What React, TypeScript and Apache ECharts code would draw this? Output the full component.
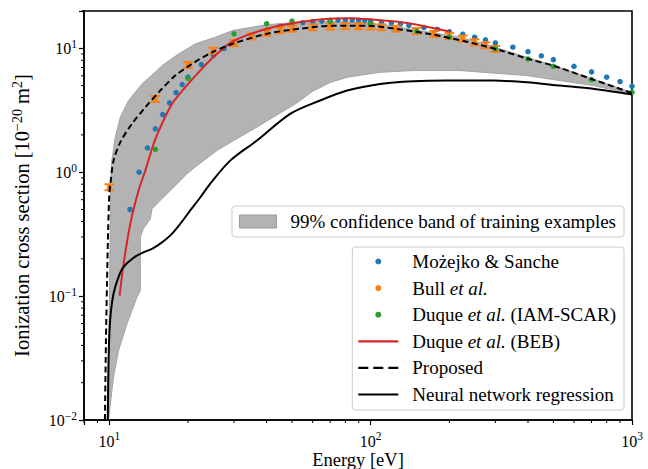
import React, { useEffect, useRef } from 'react';
import * as echarts from 'echarts';

const FONT = '"Liberation Serif", serif';

const BAND = '99% confidence band of training examples';
const MOZ = 'Możejko & Sanche';
const BULL = 'Bull et al.';
const IAM = 'Duque et al. (IAM-SCAR)';
const BEB = 'Duque et al. (BEB)';
const PROP = 'Proposed';
const NN = 'Neural network regression';

// confidence band: upper (left/top) edge and lower (right/bottom) edge, [energy, cross section]
const bandUpper: number[][] = [
  [9.8, 0.01], [9.94, 0.0365], [10.03, 0.127], [10.09, 0.43], [10.12, 0.8], [10.2, 1.2],
  [10.54, 1.92], [11.02, 2.78], [11.85, 3.79], [13.34, 5.16], [15.22, 6.61], [15.9, 7.25],
  [18.4, 9.01], [21.33, 10.85], [25.43, 12.27], [29.8, 13.97], [40.1, 15.5], [53.7, 16.3],
  [70, 16.5], [90, 16.2], [120, 15.2], [150, 14.0], [220, 12.3], [300, 10.2], [400, 8.4],
  [500, 7.3], [700, 5.7], [1000, 4.4],
];
const bandLower: number[][] = [
  [9.94, 0.01], [10.09, 0.0135], [10.38, 0.0222], [10.85, 0.0365], [11.69, 0.06], [12.76, 0.098],
  [13.14, 0.111], [13.14, 0.299], [13.5, 0.35], [14.35, 0.42], [14.57, 0.507], [16.1, 0.628],
  [18.7, 0.857], [19.8, 0.97], [21.3, 1.1], [25.8, 1.496], [29.9, 1.8], [36.7, 2.31], [45, 3.0],
  [52, 3.6], [60, 4.5], [70, 5.3], [81.3, 5.84], [108.7, 6.4], [145, 6.61], [220, 6.61],
  [397, 6.02], [710, 5.0], [1000, 4.28],
];

// Możejko & Sanche
const mozE = [12, 13, 14, 15, 16, 17, 18, 19, 20, 22.5, 25, 27.5, 30, 35, 40, 45, 50, 55, 60, 65, 70, 75, 80, 85, 90, 95, 100, 110, 120, 130, 140, 160, 180, 200, 225, 250, 275, 300, 350, 400, 450, 500, 600, 700, 800, 900, 1000];
const mozS = [0.5, 1.0, 1.57, 2.24, 2.92, 3.63, 4.39, 5.1, 5.84, 7.39, 8.78, 9.95, 11.0, 12.7, 14.0, 15.0, 15.7, 16.1, 16.4, 16.6, 16.8, 16.9, 16.9, 16.9, 16.8, 16.7, 16.6, 16.3, 16.0, 15.7, 15.3, 14.7, 14.2, 13.6, 13.0, 12.3, 11.7, 11.05, 10.2, 9.4, 8.7, 8.1, 7.16, 6.45, 5.84, 5.39, 4.94];

// Bull et al. (with relative error)
const bullE = [10, 15, 20, 25, 30, 35, 40, 45, 50, 60, 70, 80, 90, 100, 110, 125, 150, 175, 200, 225, 250, 275, 300];
const bullS = [0.757, 3.91, 7.35, 9.58, 11.05, 12.5, 13.4, 14.0, 14.4, 14.8, 15.0, 15.1, 15.1, 15.0, 14.8, 14.4, 13.8, 13.1, 12.6, 12.0, 11.2, 10.6, 9.9];
const bullRelErr = 0.055;

// Duque et al. (IAM-SCAR)
const iamE = [15, 20, 30, 40, 50, 70, 100, 150, 200, 300, 400, 500, 700, 1000];
const iamS = [1.53, 5.73, 13.1, 15.8, 16.6, 16.5, 15.8, 13.7, 12.3, 9.89, 8.21, 7.16, 5.59, 4.42];

// Duque et al. (BEB)
const bebE = [10.95, 11.34, 12.03, 12.94, 13.73, 14.77, 15.9, 17.37, 19.53, 21.95, 25.4, 29.8, 40.1, 53.7, 71.9, 85, 96.7, 129.7, 173.4, 201.4];
const bebS = [0.101, 0.182, 0.384, 0.712, 1.03, 1.69, 2.46, 3.56, 4.85, 6.4, 8.73, 11.4, 14.4, 16.3, 17.4, 17.5, 17.2, 16.3, 14.6, 13.6];

// Proposed
const propE = [9.62, 9.7, 9.8, 9.9, 10.0, 10.09, 10.38, 11.02, 12.21, 13.73, 15.67, 17.88, 20.72, 24.7, 29.8, 40.1, 53.7, 71.9, 96.7, 129.7, 173.4, 233.3, 312.7, 401.4, 507.6, 711, 1000];
const propS = [0.01, 0.04, 0.13, 0.35, 0.68, 0.8, 1.24, 1.75, 2.46, 3.34, 4.56, 6.02, 7.48, 9.28, 10.9, 13.1, 14.4, 15.2, 15.2, 14.2, 12.9, 11.3, 9.64, 8.21, 7.16, 5.59, 4.35];

// Neural network regression
const nnE = [9.87, 9.95, 10.09, 10.38, 10.85, 11.34, 12.38, 13.53, 14.57, 15.67, 17.12, 18.69, 20.4, 22.3, 24.3, 29.0, 36.7, 49.2, 64.1, 81.2, 108.7, 145.8, 195.6, 294, 396, 531, 710, 1000];
const nnS = [0.01, 0.035, 0.067, 0.105, 0.143, 0.172, 0.204, 0.226, 0.241, 0.265, 0.309, 0.384, 0.491, 0.628, 0.806, 1.24, 1.8, 2.96, 3.79, 4.56, 5.16, 5.42, 5.49, 5.49, 5.32, 5.0, 4.71, 4.23];

// axes
const xMin = 8;
const xMax = 1000;
const yMin = 0.01;
const yMax = 20;
const xMinorTicks = [8, 9, 20, 30, 40, 50, 60, 70, 80, 90, 200, 300, 400, 500, 600, 700, 800, 900];
const yMinorTicks = [0.02, 0.03, 0.04, 0.05, 0.06, 0.07, 0.08, 0.09, 0.2, 0.3, 0.4, 0.5, 0.6, 0.7, 0.8, 0.9, 2, 3, 4, 5, 6, 7, 8, 9, 20];

const pair = (xs: number[], ys: number[]) => xs.map((x, i) => [x, ys[i]]);

const powLabel = (v: number) => {
  const e = Math.log10(v);
  const r = Math.round(e);
  if (Math.abs(e - r) > 1e-6) return '';
  return `{b|10}{s|${String(r).replace('-', '\u2212')}}`;
};

const tickRich = {
  b: { fontFamily: FONT, fontSize: 16, color: '#000', verticalAlign: 'bottom', lineHeight: 17 },
  s: { fontFamily: FONT, fontSize: 11.5, color: '#000', verticalAlign: 'bottom', lineHeight: 12, padding: [0, 0, 7, 0] },
};

const nameRich = {
  s: { fontFamily: FONT, fontSize: 14, color: '#000', verticalAlign: 'bottom', lineHeight: 14, padding: [0, 0, 8, 0] },
  n: { fontFamily: FONT, fontSize: 20.5, color: '#000', verticalAlign: 'bottom', lineHeight: 21 },
};

const legendFormatter = (name: string) => {
  const idx = name.indexOf('et al.');
  if (idx < 0) return `{n|${name}}`;
  const pre = name.slice(0, idx);
  const post = name.slice(idx + 6);
  return `{n|${pre}}{i|et al.}` + (post ? `{n|${post}}` : '');
};

const legendRich = {
  n: { fontFamily: FONT, fontSize: 19, color: '#000', lineHeight: 20 },
  i: { fontFamily: FONT, fontSize: 19, fontStyle: 'italic', color: '#000', lineHeight: 20 },
};

const ICON_LINE = 'path://M0,0h40v2.2h-40z';
const ICON_DASH = 'path://M0,0h10v2.2h-10z M15,0h10v2.2h-10z M30,0h10v2.2h-10z';

function buildOption() {
  const bandSeries = {
    type: 'custom',
    name: BAND,
    coordinateSystem: 'cartesian2d',
    data: [[20, 1]],
    clip: true,
    silent: true,
    z: 1,
    itemStyle: { color: '#b3b3b3', borderColor: '#9a9a9a' },
    renderItem: (_p: any, api: any) => {
      const pts = bandUpper.map((p) => api.coord(p)).concat(bandLower.slice().reverse().map((p) => api.coord(p)));
      return {
        type: 'polygon',
        shape: { points: pts, smooth: 0 },
        style: { fill: '#b3b3b3', stroke: '#a3a3a3', lineWidth: 1 },
      };
    },
  };

  const bullSeries = {
    type: 'custom',
    name: BULL,
    coordinateSystem: 'cartesian2d',
    data: bullE.map((x, i) => [x, bullS[i], bullS[i] * (1 - bullRelErr), bullS[i] * (1 + bullRelErr)]),
    encode: { x: 0, y: 1 },
    clip: true,
    silent: true,
    z: 3,
    itemStyle: { color: '#ff7f0e' },
    renderItem: (_p: any, api: any) => {
      const x = api.value(0);
      const c = api.coord([x, api.value(1)]);
      const lo = api.coord([x, api.value(2)]);
      const hi = api.coord([x, api.value(3)]);
      const hw = 4.8;
      const col = '#ff7f0e';
      return {
        type: 'group',
        children: [
          { type: 'line', shape: { x1: lo[0], y1: lo[1], x2: hi[0], y2: hi[1] }, style: { stroke: col, lineWidth: 1.5 } },
          { type: 'line', shape: { x1: lo[0] - hw, y1: lo[1], x2: lo[0] + hw, y2: lo[1] }, style: { stroke: col, lineWidth: 2 } },
          { type: 'line', shape: { x1: hi[0] - hw, y1: hi[1], x2: hi[0] + hw, y2: hi[1] }, style: { stroke: col, lineWidth: 2 } },
          { type: 'circle', shape: { cx: c[0], cy: c[1], r: 2.6 }, style: { fill: col } },
        ],
      };
    },
  };

  const xTickSeries = {
    type: 'custom',
    coordinateSystem: 'cartesian2d',
    data: xMinorTicks.map((v) => [v, yMin]),
    silent: true,
    clip: false,
    z: 20,
    renderItem: (_p: any, api: any) => {
      const p = api.coord([api.value(0), api.value(1)]);
      return { type: 'line', shape: { x1: p[0], y1: p[1], x2: p[0], y2: p[1] + 3 }, style: { stroke: '#000', lineWidth: 1 } };
    },
  };

  const yTickSeries = {
    type: 'custom',
    coordinateSystem: 'cartesian2d',
    data: yMinorTicks.map((v) => [xMin, v]),
    silent: true,
    clip: false,
    z: 20,
    renderItem: (_p: any, api: any) => {
      const p = api.coord([api.value(0), api.value(1)]);
      return { type: 'line', shape: { x1: p[0], y1: p[1], x2: p[0] - 3, y2: p[1] }, style: { stroke: '#000', lineWidth: 1 } };
    },
  };

  const lineCommon = { type: 'line', showSymbol: false, symbol: 'none', smooth: 0.3, clip: true, silent: true };

  const legendBox = {
    orient: 'vertical',
    selectedMode: false,
    backgroundColor: 'rgba(255,255,255,0.85)',
    borderColor: '#cccccc',
    borderWidth: 1,
    borderRadius: 3,
    formatter: legendFormatter,
  };

  return {
    animation: false,
    backgroundColor: '#fff',
    grid: {
      left: 84, right: 16, top: 11, bottom: 49,
      containLabel: false, outerBoundsMode: 'none',
      show: true, borderColor: '#000', borderWidth: 1.6, backgroundColor: 'transparent',
    },
    xAxis: {
      type: 'log',
      logBase: 10,
      min: xMin,
      max: xMax,
      name: 'Energy [eV]',
      nameLocation: 'middle',
      nameGap: 32,
      nameMoveOverlap: false,
      nameTextStyle: { fontFamily: FONT, fontSize: 18.5, color: '#000', lineHeight: 16 },
      axisLine: { show: true, lineStyle: { color: '#000', width: 1.6 } },
      axisTick: { show: true, length: 5, lineStyle: { color: '#000', width: 1.2 } },
      splitLine: { show: false },
      minorTick: { show: false },
      axisLabel: { formatter: powLabel, rich: tickRich, margin: 12 },
    },
    yAxis: {
      type: 'log',
      logBase: 10,
      min: yMin,
      max: yMax,
      name: '{n|Ionization cross section [10}{s|\u221220}{n| m}{s|2}{n|]}',
      nameLocation: 'middle',
      nameRotate: 90,
      nameGap: 52,
      nameMoveOverlap: false,
      nameTextStyle: { fontFamily: FONT, fontSize: 20.5, color: '#000', rich: nameRich },
      axisLine: { show: true, lineStyle: { color: '#000', width: 1.6 } },
      axisTick: { show: true, length: 5, lineStyle: { color: '#000', width: 1.2 } },
      splitLine: { show: false },
      minorTick: { show: false },
      axisLabel: { formatter: powLabel, rich: tickRich, margin: 7 },
    },
    legend: [
      {
        ...legendBox,
        right: 24,
        top: 206,
        data: [{ name: BAND, icon: 'rect', itemStyle: { color: '#b3b3b3', borderColor: '#9a9a9a', borderWidth: 1 } }],
        itemWidth: 37,
        itemHeight: 13,
        padding: [6, 8, 6, 7],
        textStyle: { fontFamily: FONT, fontSize: 19, color: '#000', padding: [0, 0, 0, 9], rich: legendRich },
      },
      {
        ...legendBox,
        right: 24,
        top: 247,
        data: [
          { name: MOZ, icon: 'circle' },
          { name: BULL, icon: 'circle' },
          { name: IAM, icon: 'circle' },
          { name: BEB, icon: ICON_LINE },
          { name: PROP, icon: ICON_DASH },
          { name: NN, icon: ICON_LINE },
        ],
        itemWidth: 40,
        itemHeight: 6,
        itemGap: 7.6,
        padding: [5, 8, 6, 6],
        textStyle: { fontFamily: FONT, fontSize: 19, color: '#000', padding: [0, 0, 0, 9], rich: legendRich },
      },
    ],
    series: [
      bandSeries,
      { type: 'scatter', name: MOZ, data: pair(mozE, mozS), symbol: 'circle', symbolSize: 5.5, itemStyle: { color: '#1f77b4', opacity: 1 }, z: 2, silent: true },
      bullSeries,
      { type: 'scatter', name: IAM, data: pair(iamE, iamS), symbol: 'circle', symbolSize: 5.5, itemStyle: { color: '#2ca02c', opacity: 1 }, z: 4, silent: true },
      { ...lineCommon, name: BEB, data: pair(bebE, bebS), lineStyle: { color: '#d62728', width: 2 }, itemStyle: { color: '#d62728' }, z: 5 },
      { ...lineCommon, name: PROP, data: pair(propE, propS), lineStyle: { color: '#000', width: 2, type: [6, 3.5] }, itemStyle: { color: '#000' }, z: 6 },
      { ...lineCommon, name: NN, data: pair(nnE, nnS), lineStyle: { color: '#000', width: 2 }, itemStyle: { color: '#000' }, z: 7 },
      xTickSeries,
      yTickSeries,
    ],
  };
}

export default function App() {
  const ref = useRef<HTMLDivElement>(null);
  useEffect(() => {
    if (!ref.current) return;
    const chart = echarts.init(ref.current, null, { renderer: 'svg' });
    chart.setOption(buildOption() as any);
    return () => chart.dispose();
  }, []);
  return <div ref={ref} style={{ position: 'absolute', left: 0, top: 0, width: 648, height: 469 }} />;
}
